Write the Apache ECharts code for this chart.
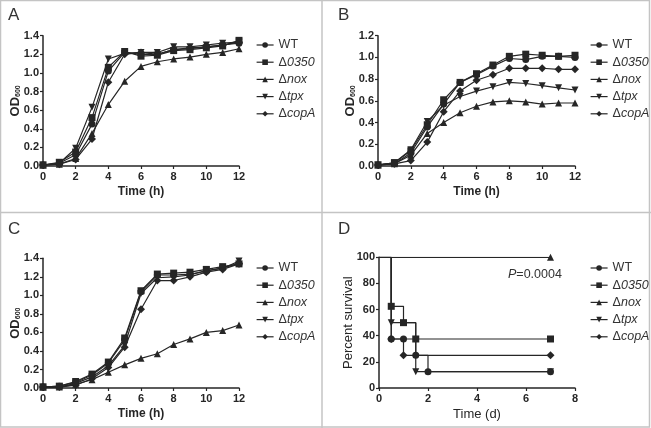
<!DOCTYPE html>
<html><head><meta charset="utf-8">
<script src="https://cdn.jsdelivr.net/npm/echarts@6/dist/echarts.min.js"></script>
<style>html,body{margin:0;padding:0;background:#fff;}#c{width:651px;height:428px;}</style>
</head><body><div id="c"></div>
<script>
var seriesNames = ['WT','Δ0350','Δnox','Δtpx','ΔcopA'];
var hours = [0,1,2,3,4,5,6,7,8,9,10,11,12];

var A_WT   = [0.01,0.03,0.12,0.45,1.02,1.22,1.20,1.20,1.25,1.26,1.28,1.30,1.32];
var A_0350 = [0.01,0.04,0.15,0.52,1.06,1.23,1.18,1.19,1.24,1.25,1.27,1.29,1.35];
var A_nox  = [0.01,0.02,0.08,0.35,0.66,0.91,1.07,1.12,1.15,1.17,1.20,1.22,1.26];
var A_tpx  = [0.01,0.03,0.19,0.63,1.15,1.21,1.22,1.22,1.28,1.28,1.30,1.32,1.33];
var A_copA = [0.01,0.02,0.07,0.29,0.90,1.20,1.22,1.20,1.25,1.27,1.28,1.30,1.33];

var B_WT   = [0.01,0.02,0.12,0.36,0.57,0.77,0.84,0.92,0.99,0.98,1.01,1.01,1.00];
var B_0350 = [0.01,0.03,0.14,0.38,0.61,0.77,0.85,0.93,1.01,1.03,1.02,1.01,1.02];
var B_nox  = [0.01,0.02,0.10,0.30,0.40,0.49,0.55,0.59,0.60,0.59,0.57,0.58,0.58];
var B_tpx  = [0.01,0.03,0.15,0.41,0.56,0.64,0.69,0.73,0.77,0.76,0.74,0.72,0.70];
var B_copA = [0.01,0.02,0.05,0.22,0.50,0.69,0.79,0.84,0.90,0.90,0.90,0.89,0.89];

var C_WT   = [0.01,0.02,0.06,0.14,0.27,0.52,1.04,1.22,1.22,1.23,1.26,1.30,1.34];
var C_0350 = [0.01,0.02,0.07,0.15,0.28,0.54,1.05,1.23,1.24,1.25,1.28,1.31,1.34];
var C_nox  = [0.01,0.01,0.04,0.09,0.17,0.25,0.32,0.37,0.47,0.53,0.60,0.62,0.68];
var C_tpx  = [0.01,0.01,0.05,0.12,0.24,0.46,1.02,1.19,1.20,1.22,1.27,1.29,1.37];
var C_copA = [0.01,0.01,0.03,0.10,0.22,0.44,0.85,1.16,1.16,1.20,1.25,1.28,1.34];

// Survival (days, percent)
var D_WT_t   = [0,0.5,1,1.5,2,7];     var D_WT_v   = [100,37.5,37.5,25,12.5,12.5];
var D_0350_t = [0,0.5,1,1.5,7];       var D_0350_v = [100,62.5,50,37.5,37.5];
var D_nox_t  = [0,7];                 var D_nox_v  = [100,100];
var D_tpx_t  = [0,0.5,1.5,7];         var D_tpx_v  = [100,50,12.5,12.5];
var D_copA_t = [0,0.5,1,7];           var D_copA_v = [100,37.5,25,25];

var panelLabels = ['A','B','C','D'];
var pText = 'P=0.0004';

var symbols = ['circle','rect','triangle','path://M0,0 L10,0 L5,9 Z','diamond'];
var FONT = 'Liberation Sans, Arial, sans-serif';
var INK = '#262626';

function pairs(xs, ys){ return xs.map(function(x,i){ return [x, ys[i]]; }); }

var grids = [
  {left:43, top:35.7, width:196, height:130.3},
  {left:378, top:35.7, width:197, height:130.3},
  {left:43, top:258.3, width:196, height:129.7},
  {left:379, top:257.3, width:196, height:130.7}
];

function yAxisOf(i, max, interval, name, bold){
  return {
    type:'value', gridIndex:i, min:0, max:max, interval:interval,
    name:name, nameLocation:'middle', nameGap: (i===3?24:21), nameRotate:90, nameMoveOverlap:false,
    nameTextStyle:{fontFamily:FONT, fontSize:(bold?12:13), fontWeight: bold?'bold':'normal', color:INK,
      rich:{b:{fontFamily:FONT,fontSize:13,fontWeight:'bold',color:INK}, s:{fontFamily:FONT,fontSize:7,fontWeight:'bold',color:INK, verticalAlign:'bottom', padding:[6,0,0,0]}}},
    axisLine:{show:true, lineStyle:{color:INK, width:1.5}},
    axisTick:{show:true, length:3, lineStyle:{color:INK, width:1.2}},
    axisLabel:{fontFamily:FONT, fontSize:11, fontWeight:'bold', color:INK, margin:4,
      formatter: function(v){ return max<=2 ? v.toFixed(1) : String(v); }},
    splitLine:{show:false}
  };
}
function xAxisOf(i, max, interval, name, bold){
  return {
    type:'value', gridIndex:i, min:0, max:max, interval:interval,
    name:name, nameLocation:'middle', nameGap:20, nameMoveOverlap:false,
    nameTextStyle:{fontFamily:FONT, fontSize:(bold?12:13), fontWeight: bold?'bold':'normal', color:INK},
    axisLine:{show:true, onZero:false, lineStyle:{color:INK, width:1.5}},
    axisTick:{show:true, length:3, lineStyle:{color:INK, width:1.2}},
    axisLabel:{fontFamily:FONT, fontSize:11, fontWeight:'bold', color:INK, margin:5},
    splitLine:{show:false}
  };
}

var panelData = [
  [A_WT,A_0350,A_nox,A_tpx,A_copA],
  [B_WT,B_0350,B_nox,B_tpx,B_copA],
  [C_WT,C_0350,C_nox,C_tpx,C_copA]
];
var series = [];
panelData.forEach(function(arrs, p){
  arrs.forEach(function(vals, k){
    series.push({
      name: seriesNames[k], type:'line', xAxisIndex:p, yAxisIndex:p,
      data: pairs(hours, vals), symbol: symbols[k], symbolSize: (k===4?8:7),
      showAllSymbol:true, animation:false,
      lineStyle:{color:INK, width:1.2}, itemStyle:{color:INK},
      z: 5-k
    });
  });
});
var dT = [D_WT_t,D_0350_t,D_nox_t,D_tpx_t,D_copA_t];
var dV = [D_WT_v,D_0350_v,D_nox_v,D_tpx_v,D_copA_v];
dT.forEach(function(ts, k){
  var d = pairs(ts, dV[k]).map(function(pt, j){ return j===0 ? {value:pt, symbol:'none'} : pt; });
  series.push({
    name: seriesNames[k], type:'line', step:'end', xAxisIndex:3, yAxisIndex:3,
    data: d, symbol: symbols[k], symbolSize:(k===4?8:7), showAllSymbol:true, animation:false,
    lineStyle:{color:INK, width:1.2}, itemStyle:{color:INK}
  });
});

function legendOf(left, top){
  return {
    orient:'vertical', left:left, top:top, itemWidth:17, itemHeight:7, itemGap:4.2,
    selectedMode:false, data: seriesNames,
    formatter: function(n){ return n.charAt(0)==='Δ' ? '{d|Δ}{i|'+n.slice(1)+'}' : '{n|'+n+'}'; },
    textStyle:{fontFamily:FONT, fontSize:12.5, color:'#333', lineHeight:12,
      rich:{n:{fontFamily:FONT,fontSize:12.5,color:'#333',lineHeight:12},
            d:{fontFamily:FONT,fontSize:12.5,color:'#333',lineHeight:12},
            i:{fontFamily:FONT,fontSize:12.5,fontStyle:'italic',color:'#333',lineHeight:12}}},
    itemStyle:{color:INK}, lineStyle:{color:INK, width:1.2}
  };
}

var borderColor = '#c4c4c4';
var graphic = [
  {type:'rect', shape:{x:0.5,y:0.5,width:649,height:426.5}, style:{fill:'none', stroke:borderColor, lineWidth:1.5}, silent:true},
  {type:'line', shape:{x1:322,y1:0,x2:322,y2:428}, style:{stroke:borderColor, lineWidth:1.5}, silent:true},
  {type:'line', shape:{x1:0,y1:212.5,x2:651,y2:212.5}, style:{stroke:borderColor, lineWidth:1.5}, silent:true},
  {type:'text', left:8, top:7, style:{text:panelLabels[0], font:'17px '+FONT, fill:'#333'}},
  {type:'text', left:338, top:7, style:{text:panelLabels[1], font:'17px '+FONT, fill:'#333'}},
  {type:'text', left:8, top:221, style:{text:panelLabels[2], font:'17px '+FONT, fill:'#333'}},
  {type:'text', left:338, top:221, style:{text:panelLabels[3], font:'17px '+FONT, fill:'#333'}},
  {type:'text', left:508, top:268, style:{text:'{i|'+pText.charAt(0)+'}{n|'+pText.slice(1)+'}',
    rich:{i:{fontFamily:FONT,fontSize:12.5,fontStyle:'italic',fill:'#333'}, n:{fontFamily:FONT,fontSize:12.5,fill:'#333'}}}}
];

var option = {
  backgroundColor:'#fff', animation:false,
  grid: grids,
  xAxis: [xAxisOf(0,12,2,'Time (h)',true), xAxisOf(1,12,2,'Time (h)',true), xAxisOf(2,12,2,'Time (h)',true), xAxisOf(3,8,2,'Time (d)',false)],
  yAxis: [yAxisOf(0,1.4,0.2,'{b|OD}{s|600}',true), yAxisOf(1,1.2,0.2,'{b|OD}{s|600}',true), yAxisOf(2,1.4,0.2,'{b|OD}{s|600}',true), yAxisOf(3,100,20,'Percent survival',false)],
  legend: [legendOf(251,33.5), legendOf(585,33.5), legendOf(251,256.5), legendOf(585,256.5)],
  series: series,
  graphic: graphic
};
var chart = echarts.init(document.getElementById('c'), null, {renderer:'canvas'});
chart.setOption(option);
</script></body></html>
